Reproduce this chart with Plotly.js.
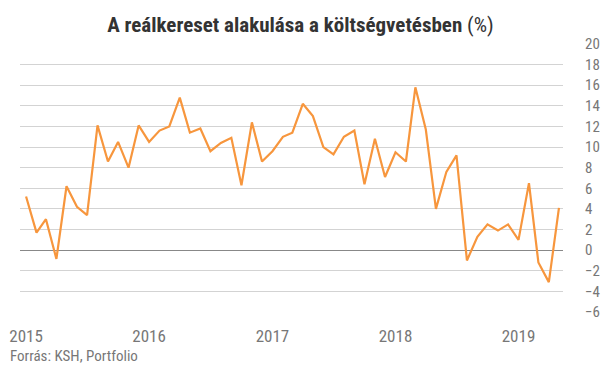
<!DOCTYPE html>
<html>
<head>
<meta charset="utf-8">
<script src="https://cdn.plot.ly/plotly-3.0.1.min.js"></script>
<style>html,body{margin:0;padding:0;background:#fff;}#chart{width:602px;height:366px;}</style>
</head>
<body>
<div id="chart"></div>
<script>
// Monthly real wage growth (%), 2015-01 .. 2019-05
const months = [
  "2015-01","2015-02","2015-03","2015-04","2015-05","2015-06","2015-07","2015-08","2015-09","2015-10","2015-11","2015-12",
  "2016-01","2016-02","2016-03","2016-04","2016-05","2016-06","2016-07","2016-08","2016-09","2016-10","2016-11","2016-12",
  "2017-01","2017-02","2017-03","2017-04","2017-05","2017-06","2017-07","2017-08","2017-09","2017-10","2017-11","2017-12",
  "2018-01","2018-02","2018-03","2018-04","2018-05","2018-06","2018-07","2018-08","2018-09","2018-10","2018-11","2018-12",
  "2019-01","2019-02","2019-03","2019-04","2019-05"
];
const realWage = [
  5.2, 1.7, 3.0, -0.85, 6.2, 4.2, 3.4, 12.1, 8.6, 10.5, 8.0, 12.1,
  10.5, 11.6, 12.0, 14.8, 11.4, 11.8, 9.6, 10.4, 10.9, 6.3, 12.4, 8.6,
  9.6, 11.0, 11.4, 14.2, 13.0, 10.0, 9.3, 11.0, 11.6, 6.4, 10.8, 7.1,
  9.5, 8.6, 15.8, 11.7, 4.0, 7.6, 9.2, -1.0, 1.3, 2.5, 1.9, 2.5,
  1.0, 6.5, -1.2, -3.1, 4.1
];
const yearLabels = ["2015", "2016", "2017", "2018", "2019"];
const yTicks = [-6, -4, -2, 0, 2, 4, 6, 8, 10, 12, 14, 16, 18, 20];

const FONT = "'Roboto Condensed', 'Liberation Sans Narrow', 'DejaVu Sans Condensed', Roboto, sans-serif";

const trace = {
  x: months, y: realWage, type: "scatter", mode: "lines",
  line: {color: "#f7963d", width: 2.2}
};

const layout = {
  width: 602, height: 366,
  margin: {l: 20, r: 39, t: 44, b: 54},
  paper_bgcolor: "#fff", plot_bgcolor: "#fff",
  showlegend: false,
  title: {
    text: "<b>A reálkereset alakulása a költségvetésben</b> (%)",
    font: {family: FONT, size: 21, color: "#333"},
    x: 0.499, xanchor: "center", y: 0.934, yanchor: "middle"
  },
  xaxis: {
    type: "date",
    range: ["2014-12-14", "2019-05-13"],
    showgrid: false, zeroline: false, showline: false,
    tickmode: "array",
    tickvals: yearLabels.map(y => y + "-01-01"), ticktext: yearLabels,
    ticks: "", ticklabelstandoff: 12,
    tickfont: {family: FONT, size: 17, color: "#777"}
  },
  yaxis: {
    side: "right", range: [-6, 20],
    tickmode: "array", tickvals: yTicks,
    showgrid: true, gridcolor: "#d3d3d3", gridwidth: 1,
    zeroline: true, zerolinecolor: "#888", zerolinewidth: 1,
    showline: false, ticks: "", ticklabelstandoff: 21,
    tickfont: {family: FONT, size: 15, color: "#777"}
  },
  annotations: [{
    text: "Forrás: KSH, Portfolio", xref: "paper", yref: "paper",
    x: -0.022, xanchor: "left", y: -0.205, yanchor: "bottom", showarrow: false,
    font: {family: FONT, size: 15, color: "#777"}
  }]
};

Plotly.newPlot("chart", [trace], layout, {staticPlot: true, displayModeBar: false});
</script>
</body>
</html>
